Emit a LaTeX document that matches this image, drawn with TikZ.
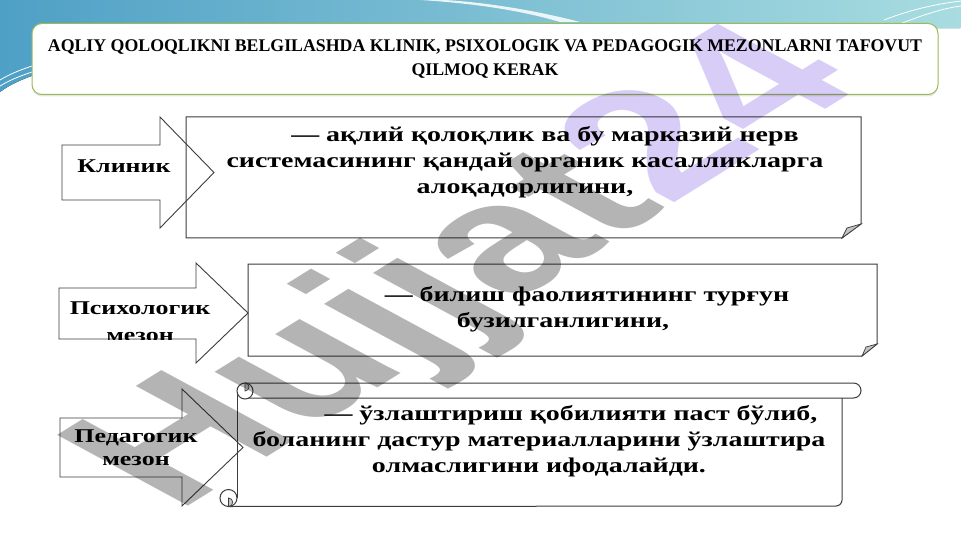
\documentclass[tikz,border=0pt]{standalone}
\usepackage{fontspec}
\setmainfont{Liberation Serif}
\newfontfamily\slidefont[FakeStretch=1.33]{Liberation Serif}
\newfontfamily\markfont{Liberation Sans}
\usetikzlibrary{shadows}

\definecolor{bandleft}{HTML}{4FA0C6}
\definecolor{bandright}{HTML}{A8DCE0}
\definecolor{titleline}{HTML}{9BBB59}
\definecolor{outline}{HTML}{3C3C3C}
\definecolor{flap}{HTML}{C4C4C4}
\definecolor{markgray}{HTML}{B4B4B4}
\definecolor{marklilac}{HTML}{D8CDF7}

\tikzset{
    bigarrow/.style={draw=outline,line width=0.9pt,line join=miter},
    sheet/.style={draw=outline,line width=1pt},
    curl/.style={draw=outline,line width=0.7pt,fill=flap},
    arrowtext/.style={font=\slidefont\bfseries\fontsize{19.5}{23}\selectfont,align=center,inner sep=0pt},
    sheettext/.style={font=\slidefont\bfseries\fontsize{21}{26}\selectfont,align=center,inner sep=0pt},
    titlebox/.style={draw=titleline,line width=1pt,fill=white,rounded corners=10pt,
        drop shadow={opacity=0.2,shadow xshift=0pt,shadow yshift=-2pt},
        font=\bfseries\fontsize{17.8}{24}\selectfont,align=center}
}

\begin{document}
\begin{tikzpicture}[x=1pt,y=1pt]
  \useasboundingbox (0,0) rectangle (961,-540);

  % Slide background
  \fill[white] (0,0) rectangle (961,-540);
  \fill[left color=bandleft,right color=bandright] (0,0) -- (961,0) -- (961,-28)
      .. controls (500,-30) and (80,-30) .. (0,-92) -- cycle;
  \fill[white,opacity=0.85] (420,0) .. controls (470,-3) and (520,-10) .. (560,-22)
      -- (580,-22) .. controls (530,-9) and (480,-2) .. (445,0) -- cycle;
  \draw[white,line width=0.8pt] (884,-20) .. controls (910,-10) and (935,-4) .. (961,-1);
  \draw[white,line width=0.8pt] (900,-24) .. controls (925,-14) and (945,-8) .. (961,-6);
  \draw[white,line width=0.8pt] (0,-80) .. controls (10,-74) and (20,-70) .. (32,-66);
  \draw[white,line width=0.8pt] (0,-86) .. controls (10,-80) and (20,-76) .. (32,-72);

  % Title
  \node[titlebox,minimum width=906pt,minimum height=71pt] (title) at (485,-59)
      {AQLIY QOLOQLIKNI BELGILASHDA KLINIK, PSIXOLOGIK VA PEDAGOGIK MEZONLARNI TAFOVUT\\QILMOQ KERAK};

  % Clinical criterion
  \draw[bigarrow] (62,-145) -- (160,-145) -- (160,-117) -- (214,-172.5) -- (160,-228) -- (160,-200) -- (62,-200) -- cycle;
  \node[arrowtext] (klinik) at (124,-166) {Клиник};
  \draw[sheet] (186,-117) -- (861,-117) -- (861,-224) -- (842,-238) -- (186,-238) -- cycle;
  \draw[curl] (842,-238) -- (847,-228) -- (861,-224) -- cycle;
  \node[sheettext] (klinikt) at (525,-162)
      {\hspace*{40pt}— ақлий қолоқлик ва бу марказий нерв\\системасининг қандай органик касалликларга\\алоқадорлигини,};

  % Psychological criterion
  \draw[bigarrow] (59,-288) -- (196,-288) -- (196,-263) -- (248,-313) -- (196,-363) -- (196,-339) -- (59,-339) -- cycle;
  \begin{scope}
    \clip (59,-288) -- (196,-288) -- (196,-263) -- (248,-313) -- (196,-363) -- (196,-339) -- (59,-339) -- cycle;
    \node[arrowtext,font=\slidefont\bfseries\fontsize{19.5}{27}\selectfont] (psix) at (140,-322) {Психологик\\мезон};
  \end{scope}
  \draw[sheet] (248,-264) -- (877,-264) -- (877,-344) -- (862,-356) -- (248,-356) -- cycle;
  \draw[curl] (862,-356) -- (866,-347) -- (877,-344) -- cycle;
  \node[sheettext] (psixt) at (563,-309)
      {\hspace*{48pt}— билиш фаолиятининг турғун\\бузилганлигини,};

  % Pedagogical criterion
  \draw[bigarrow] (60,-418) -- (182,-418) -- (182,-389) -- (243,-447.5) -- (182,-506) -- (182,-477) -- (60,-477) -- cycle;
  \node[arrowtext] (pedag) at (136,-448) {Педагогик\\мезон};
  \draw[sheet] (245,-383) -- (853.5,-383) arc[start angle=90,end angle=-90,radius=7.5] -- (245,-398);
  \draw[sheet] (842,-398) -- (842,-500) arc[start angle=0,end angle=-90,radius=6] -- (228.5,-506.5);
  \draw[sheet] (237,-391) -- (237,-498);
  \draw[sheet,fill=white] (245,-391) circle (8);
  \draw[curl] (245,-391) -- (245,-383) arc[start angle=90,end angle=-90,radius=4] -- cycle;
  \draw[sheet,fill=white] (228.5,-498) circle (8.5);
  \draw[curl] (228.5,-498) -- (228.5,-506.5) arc[start angle=-90,end angle=90,radius=4.25] -- cycle;
  \node[sheettext] (pedagt) at (539,-441)
      {\hspace*{64pt}— ўзлаштириш қобилияти паст бўлиб,\\боланинг дастур материалларини ўзлаштира\\олмаслигини ифодалайди.};

  % Watermark
  \begin{scope}[shift={(472,-272)},yscale=0.58,blend mode=multiply]
    \node[rotate=47,transform shape,inner sep=0pt,font=\markfont\bfseries\fontsize{260}{260}\selectfont] (mark)
        {\textcolor{markgray}{Hujjat}\textcolor{marklilac}{24}};
  \end{scope}
\end{tikzpicture}
\end{document}
